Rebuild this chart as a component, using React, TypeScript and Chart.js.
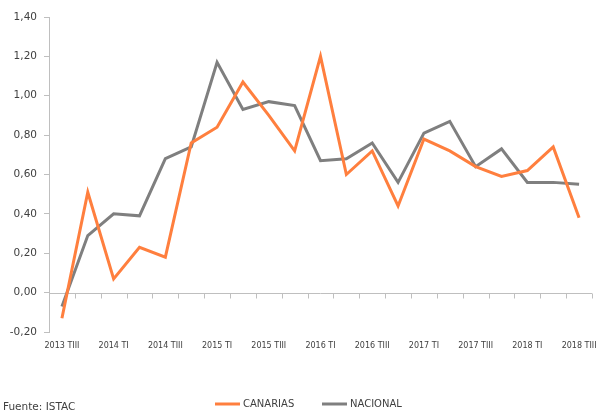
import React, { useEffect, useRef } from "react";
import { Chart, registerables } from "chart.js";

Chart.register(...registerables);

const quarters: string[] = [
  "2013 TIII", "2013 TIV",
  "2014 TI", "2014 TII", "2014 TIII", "2014 TIV",
  "2015 TI", "2015 TII", "2015 TIII", "2015 TIV",
  "2016 TI", "2016 TII", "2016 TIII", "2016 TIV",
  "2017 TI", "2017 TII", "2017 TIII", "2017 TIV",
  "2018 TI", "2018 TII", "2018 TIII",
];

const canarias: number[] = [
  -0.13, 0.51, 0.07, 0.23, 0.18, 0.76, 0.84, 1.07, 0.9, 0.72, 1.2,
  0.6, 0.72, 0.44, 0.78, 0.72, 0.64, 0.59, 0.62, 0.74, 0.38,
];

const nacional: number[] = [
  -0.07, 0.29, 0.4, 0.39, 0.68, 0.74, 1.17, 0.93, 0.97, 0.95, 0.67,
  0.68, 0.76, 0.56, 0.81, 0.87, 0.64, 0.73, 0.56, 0.56, 0.55,
];

const seriesNames: string[] = ["CANARIAS", "NACIONAL"];
const sourceText = "Fuente: ISTAC";

const ORANGE = "#FF7F3E";
const GRAY = "#7F7F7F";
const AXIS = "#BFBFBF";
const TEXT = "#404040";
const FONT = "'DejaVu Sans', Verdana, sans-serif";

const zeroLinePlugin = {
  id: "zeroLine",
  beforeDatasetsDraw(chart: any) {
    const { ctx, chartArea, scales } = chart;
    const y0 = Math.round(scales.y.getPixelForValue(0)) + 0.5;
    const n = quarters.length;
    const step = (chartArea.right - chartArea.left) / n;
    ctx.save();
    ctx.strokeStyle = AXIS;
    ctx.lineWidth = 1;
    ctx.beginPath();
    ctx.moveTo(chartArea.left, y0);
    ctx.lineTo(chartArea.right, y0);
    for (let k = 1; k <= n; k++) {
      const x = Math.round(chartArea.left + k * step) + 0.5;
      ctx.moveTo(x, y0);
      ctx.lineTo(x, y0 + 5);
    }
    ctx.stroke();
    ctx.restore();
  },
};

const legendPlugin = {
  id: "customLegend",
  afterDraw(chart: any) {
    const { ctx } = chart;
    const colors = [ORANGE, GRAY];
    const starts = [215, 322];
    const y = 404;
    ctx.save();
    ctx.font = `10px ${FONT}`;
    ctx.textBaseline = "middle";
    ctx.textAlign = "left";
    seriesNames.forEach((name, i) => {
      ctx.strokeStyle = colors[i];
      ctx.lineWidth = 3;
      ctx.beginPath();
      ctx.moveTo(starts[i], y);
      ctx.lineTo(starts[i] + 25, y);
      ctx.stroke();
      ctx.fillStyle = TEXT;
      ctx.fillText(name, starts[i] + 28, y);
    });
    ctx.font = `10.5px ${FONT}`;
    ctx.fillText(sourceText, 3, 407);
    ctx.restore();
  },
};

export default function App() {
  const ref = useRef<HTMLCanvasElement | null>(null);

  useEffect(() => {
    if (!ref.current) return;
    const chart = new Chart(ref.current, {
      type: "line",
      data: {
        labels: quarters,
        datasets: [
          {
            label: seriesNames[0],
            data: canarias,
            borderColor: ORANGE,
            backgroundColor: ORANGE,
            borderWidth: 3,
            pointRadius: 0,
            tension: 0,
          },
          {
            label: seriesNames[1],
            data: nacional,
            borderColor: GRAY,
            backgroundColor: GRAY,
            borderWidth: 3,
            pointRadius: 0,
            tension: 0,
          },
        ],
      },
      options: {
        responsive: false,
        animation: false,
        devicePixelRatio: 1,
        layout: { padding: { top: 17, right: 10, left: 0, bottom: 0 } },
        plugins: {
          legend: { display: false },
          tooltip: { enabled: false },
        },
        scales: {
          x: {
            type: "category",
            offset: true,
            grid: { display: false },
            border: { display: false },
            ticks: {
              autoSkip: false,
              maxRotation: 0,
              minRotation: 0,
              padding: 1,
              color: TEXT,
              font: { family: FONT, size: 8 },
              callback: (_v: any, i: number) => (i % 2 === 0 ? quarters[i] : ""),
            },
            afterFit: (scale: any) => {
              scale.height = 80;
            },
          },
          y: {
            min: -0.2,
            max: 1.4,
            grid: {
              display: true,
              drawOnChartArea: false,
              drawTicks: true,
              tickLength: 5,
              color: AXIS,
            },
            border: { display: true, color: AXIS, width: 1 },
            ticks: {
              stepSize: 0.2,
              padding: 7,
              color: TEXT,
              font: { family: FONT, size: 10.5 },
              callback: (v: any) => (Math.round(Number(v) * 100) / 100).toFixed(2).replace(".", ","),
            },
            afterFit: (scale: any) => {
              scale.width = 49;
            },
          },
        },
      },
      plugins: [zeroLinePlugin, legendPlugin],
    });
    return () => chart.destroy();
  }, []);

  return (
    <div style={{ position: "absolute", left: 0, top: 0, width: 602, height: 412, background: "#fff" }}>
      <canvas ref={ref} width={602} height={412} style={{ display: "block" }} />
    </div>
  );
}
